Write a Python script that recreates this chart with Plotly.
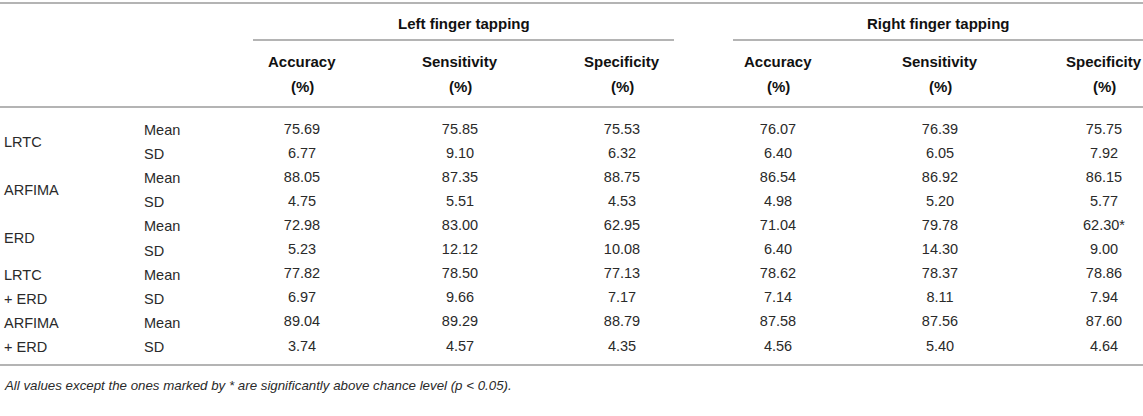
import plotly.graph_objects as go

# table content
tasks = ["Left finger tapping", "Right finger tapping"]
metrics = ["Accuracy", "Sensitivity", "Specificity"]
methods = ["LRTC", "ARFIMA", "ERD", "LRTC", "ARFIMA"]
combined = [False, False, False, True, True]
stats = ["Mean", "SD"]

left_accuracy = [75.69, 6.77, 88.05, 4.75, 72.98, 5.23, 77.82, 6.97, 89.04, 3.74]
left_sensitivity = [75.85, 9.10, 87.35, 5.51, 83.00, 12.12, 78.50, 9.66, 89.29, 4.57]
left_specificity = [75.53, 6.32, 88.75, 4.53, 62.95, 10.08, 77.13, 7.17, 88.79, 4.35]
right_accuracy = [76.07, 6.40, 86.54, 4.98, 71.04, 6.40, 78.62, 7.14, 87.58, 4.56]
right_sensitivity = [76.39, 6.05, 86.92, 5.20, 79.78, 14.30, 78.37, 8.11, 87.56, 5.40]
right_specificity = [75.75, 7.92, 86.15, 5.77, 62.30, 9.00, 78.86, 7.94, 87.60, 4.64]
# cells not significantly above chance: (column, row)
not_significant = [(5, 4)]

footnote = ("All values except the ones marked by * are significantly above "
            "chance level (p &lt; 0.05).")

W, H = 1143, 416
FONT = "Liberation Sans, Arial, Helvetica, sans-serif"
TXT = "#2a2a2a"
RULE = "#b4b4b4"

col_x = [302, 460, 622, 778, 940, 1104]
group_span = [(253, 674), (733, W)]
row_y0, row_h = 130, 24.1


def main():
    columns = [left_accuracy, left_sensitivity, left_specificity,
               right_accuracy, right_sensitivity, right_specificity]
    n_rows = len(left_accuracy)
    row_y = [row_y0 + i * row_h for i in range(n_rows)]

    fig = go.Figure()

    for c, vals in enumerate(columns):
        labels = ["%.2f" % v for v in vals]
        for (cc, r) in not_significant:
            if cc == c:
                labels[r] += "*"
        fig.add_trace(go.Scatter(
            x=[col_x[c]] * n_rows, y=row_y, text=labels, mode="text",
            textposition="middle center",
            textfont=dict(family=FONT, size=14.5, color=TXT),
            hoverinfo="skip", showlegend=False))

    ann = []
    # group headers and their rules
    for g, name in enumerate(tasks):
        x0, x1 = group_span[g]
        ann.append(dict(x=(x0 + x1) / 2, y=23, text="<b>%s</b>" % name,
                        color="#111111"))
    for c in range(len(col_x)):
        ann.append(dict(x=col_x[c], y=61, text="<b>%s</b>" % metrics[c % 3],
                        color="#111111"))
        ann.append(dict(x=col_x[c], y=86, text="<b>(%)</b>", color="#111111"))

    # row labels
    for m, name in enumerate(methods):
        y_mean, y_sd = row_y[2 * m], row_y[2 * m + 1]
        if combined[m]:
            ann.append(dict(x=2, y=y_mean, text=name, xanchor="left", size=14.5))
            ann.append(dict(x=2, y=y_sd, text="+ ERD", xanchor="left", size=14.5))
        else:
            ann.append(dict(x=2, y=(y_mean + y_sd) / 2, text=name,
                            xanchor="left", size=14.5))
        for s, st in enumerate(stats):
            ann.append(dict(x=142, y=row_y[2 * m + s], text=st,
                            xanchor="left", size=14.5))

    ann.append(dict(x=2, y=385, text="<i>%s</i>" % footnote, xanchor="left",
                    size=13.3))

    annotations = []
    for a in ann:
        size = a.pop("size", 15)
        color = a.pop("color", TXT)
        annotations.append(dict(
            xref="x", yref="y", showarrow=False, yanchor="middle",
            xanchor=a.pop("xanchor", "center"),
            font=dict(family=FONT, size=size, color=color), **a))

    rules = [(0, W, 3), (group_span[0][0], group_span[0][1], 40),
             (group_span[1][0], group_span[1][1], 40),
             (0, W, 107), (0, W, 365)]
    shapes = [dict(type="line", xref="x", yref="y", x0=x0, x1=x1, y0=y, y1=y,
                   line=dict(color=RULE, width=1.8)) for x0, x1, y in rules]

    fig.update_layout(
        width=W, height=H, margin=dict(l=0, r=0, t=0, b=0),
        paper_bgcolor="white", plot_bgcolor="white",
        xaxis=dict(range=[0, W], visible=False, fixedrange=True),
        yaxis=dict(range=[H, 0], visible=False, fixedrange=True),
        annotations=annotations, shapes=shapes, showlegend=False)

    fig.write_html("out.html", config={"displayModeBar": False},
                   post_script="document.body.style.margin='0';")


if __name__ == '__main__':
    main()
